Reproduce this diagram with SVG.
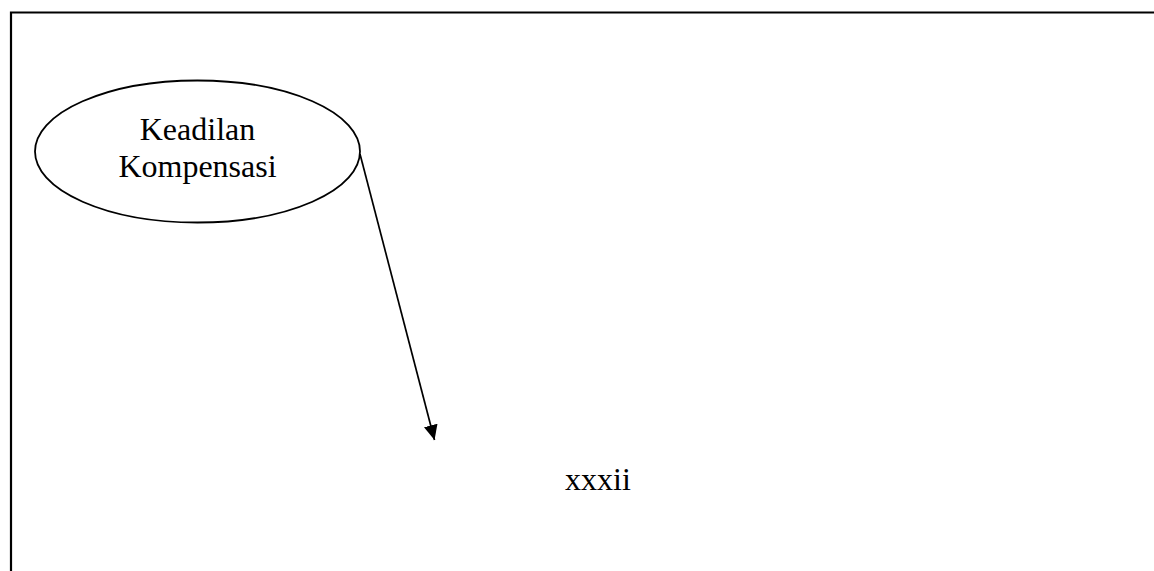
<svg xmlns="http://www.w3.org/2000/svg" width="1154" height="571" viewBox="0 0 1154 571">
<style>
text{font-family:"Liberation Serif","Times New Roman",serif;font-size:32px;fill:#000;text-anchor:middle}
.s{fill:none;stroke:#000}
</style>
<defs>
<marker id="ah" viewBox="0 0 15 14" refX="15" refY="7" markerWidth="15" markerHeight="14" markerUnits="userSpaceOnUse" orient="auto"><path d="M0,0 L15,7 L0,14 Z" fill="#000"/></marker>
</defs>
<rect width="1154" height="571" fill="#fff"/>
<g id="frame"><path class="s" stroke-width="2.2" d="M11,571 V12.5 H1154"/></g>
<g id="node-keadilan">
<ellipse class="s" stroke-width="1.8" cx="197.5" cy="151.5" rx="162.5" ry="71"/>
<text x="197.5" y="139.5">Keadilan</text>
<text x="197.5" y="177">Kompensasi</text>
</g>
<g id="connectors">
<line class="s" stroke-width="1.7" x1="360" y1="154" x2="434.5" y2="440" marker-end="url(#ah)"/>
</g>
<g id="label-xxxii"><text x="598" y="490">xxxii</text></g>
</svg>
